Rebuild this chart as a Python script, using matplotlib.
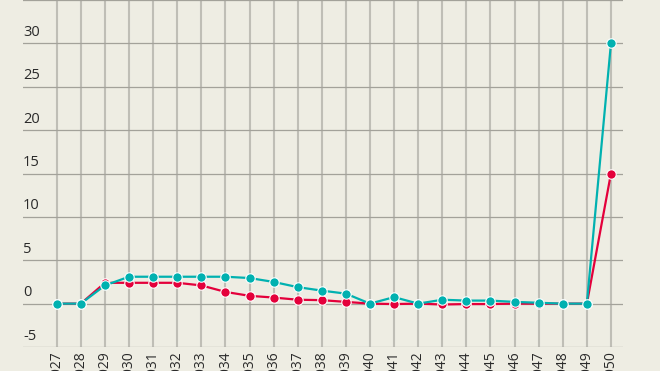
import matplotlib
matplotlib.use('Agg')
import matplotlib.pyplot as plt

plt.rcParams['font.family'] = ['Open Sans', 'DejaVu Sans']

# 데이터
years = list(range(2027, 2051))
red_vals = [0, 0, 2.4, 2.4, 2.4, 2.4, 2.1, 1.35, 0.9, 0.7, 0.45, 0.4,
            0.2, 0, -0.05, 0, -0.1, -0.05, -0.05, 0, 0, 0, 0, 15]
teal_vals = [0, 0, 2.1, 3.1, 3.1, 3.1, 3.1, 3.1, 2.95, 2.5, 1.9, 1.5,
             1.15, 0, 0.75, 0, 0.45, 0.35, 0.35, 0.2, 0.1, 0, 0, 30]
y_ticks = [-5, 0, 5, 10, 15, 20, 25, 30, 35]

BG = '#eeede3'
HGRID = '#a3a29a'
VGRID = '#bfbeb6'
RED = '#e4003b'
TEAL = '#00b1b0'
TEXT = '#2a2a2a'

fig = plt.figure(figsize=(6.6, 3.71), dpi=100)
fig.patch.set_facecolor(BG)
ax = fig.add_axes([23/660, 24/371, 600/660, 347/371])
ax.set_facecolor(BG)
ax.set_xlim(2025.6, 2050.5)
ax.set_ylim(-5, 35)
for s in ax.spines.values():
    s.set_visible(False)

ax.set_yticks(y_ticks)
ax.set_xticks(years)
ax.tick_params(length=0)
ax.set_yticklabels([])
ax.set_xticklabels([])
ax.grid(True, axis='y', color=HGRID, lw=0.9, zorder=0)
ax.grid(True, axis='x', color=VGRID, lw=1.5, zorder=0)
ax.set_axisbelow(True)

# y축 라벨 (그리드 위)
for t in y_ticks[:-1]:
    ax.annotate(str(t), xy=(0, t), xycoords=('axes fraction', 'data'),
                xytext=(0, 2.5), textcoords='offset points',
                ha='left', va='bottom', fontsize=10.5, color=TEXT)

# x축 라벨 (세로)
for yr in years:
    ax.annotate(str(yr), xy=(yr, 0), xycoords=('data', 'axes fraction'),
                xytext=(0, -3), textcoords='offset points', rotation=90,
                ha='center', va='top', fontsize=10, color=TEXT,
                annotation_clip=False)

ax.plot(years, red_vals, color=RED, lw=1.6, marker='o', ms=6.8,
        mec='white', mew=0.8, zorder=3, clip_on=False)
ax.plot(years, teal_vals, color=TEAL, lw=1.6, marker='o', ms=6.8,
        mec='white', mew=0.8, zorder=4, clip_on=False)

plt.savefig('out.png', dpi=100, facecolor=BG)
plt.close()
